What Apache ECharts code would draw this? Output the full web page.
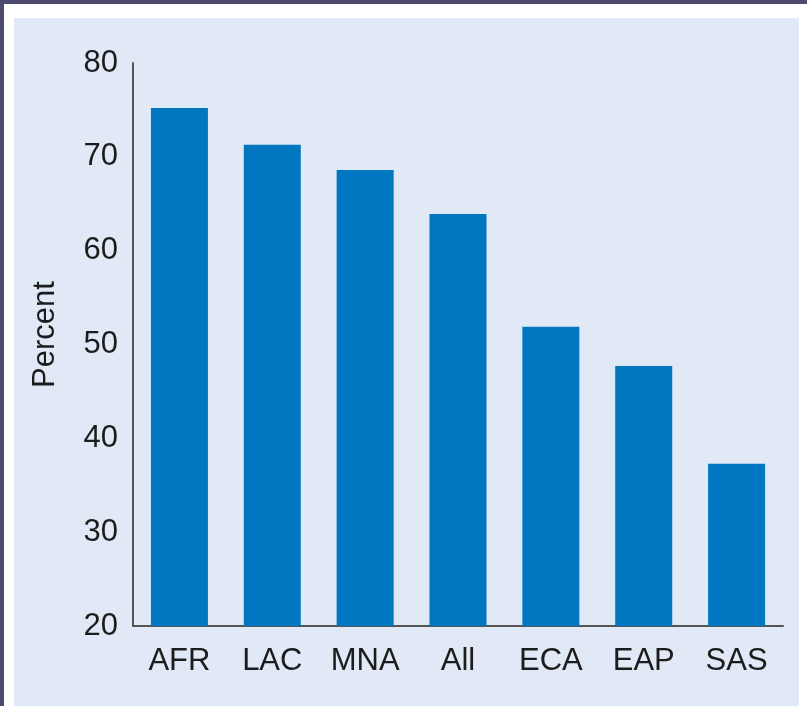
<!DOCTYPE html>
<html>
<head>
    <meta charset="utf-8">
    <title>Percent by region</title>
    <script src="https://cdn.jsdelivr.net/npm/echarts@6/dist/echarts.min.js"></script>
    <style>
        html, body { margin: 0; padding: 0; }
        body { width: 807px; height: 706px; background: #4c4a6f; position: relative; overflow: hidden; }
        #frame { position: absolute; left: 4px; top: 4px; width: 803px; height: 702px; background: #ffffff; }
        #panel { position: absolute; left: 14px; top: 18px; width: 785px; height: 688px; background: #e0e9f5; }
        #chart { position: absolute; left: 0; top: 0; width: 807px; height: 706px; }
    </style>
</head>
<body>
    <div id="frame"></div>
    <div id="panel"></div>
    <div id="chart"></div>
    <script type="text/javascript">
        var regions = ['AFR', 'LAC', 'MNA', 'All', 'ECA', 'EAP', 'SAS'];
        var percent = [75.2, 71.3, 68.6, 63.9, 51.9, 47.7, 37.3];

        var myChart = echarts.init(document.getElementById('chart'));
        var font = 'Liberation Sans, Arial, sans-serif';

        var option = {
            backgroundColor: 'transparent',
            animation: false,
            grid: { left: 133, right: 24, top: 63, bottom: 80 },
            xAxis: {
                type: 'category',
                data: regions,
                axisLine: { show: true, lineStyle: { color: '#555555', width: 2 } },
                axisTick: { show: false },
                axisLabel: { color: '#1c1c1c', fontSize: 31, fontFamily: font, margin: 20 }
            },
            yAxis: {
                type: 'value',
                min: 20,
                max: 80,
                interval: 10,
                name: 'Percent',
                nameLocation: 'middle',
                nameGap: 72,
                nameTextStyle: { color: '#1c1c1c', fontSize: 31, fontFamily: font, padding: [0, 0, 0, 20] },
                axisLine: { show: true, lineStyle: { color: '#555555', width: 2 } },
                axisTick: { show: false },
                splitLine: { show: false },
                axisLabel: { color: '#1c1c1c', fontSize: 31, fontFamily: font, margin: 15 }
            },
            series: [
                {
                    type: 'bar',
                    data: percent,
                    barWidth: 57,
                    itemStyle: { color: '#0077c0' }
                }
            ]
        };

        myChart.setOption(option);
    </script>
</body>
</html>
